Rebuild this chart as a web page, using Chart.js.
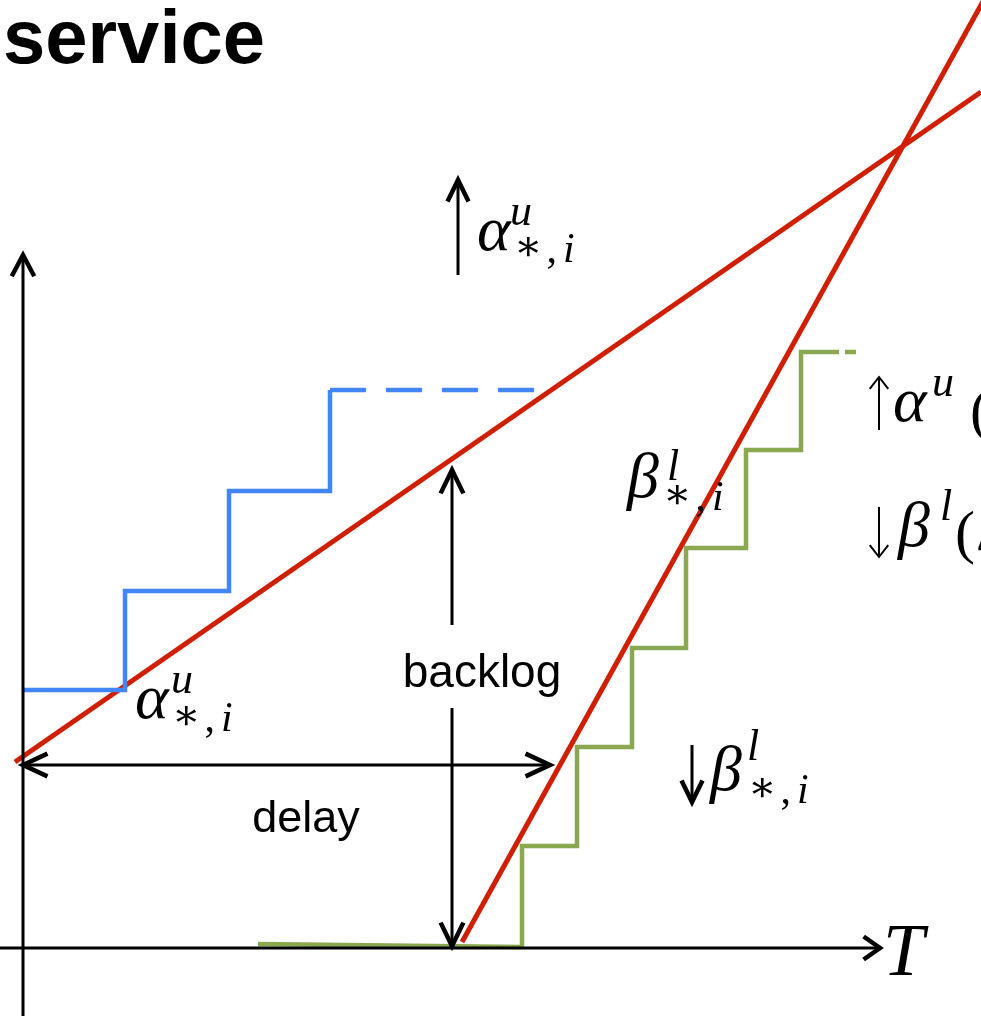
<!DOCTYPE html>
<html>
<head>
<meta charset="utf-8">
<title>service</title>
<script src="https://cdn.jsdelivr.net/npm/chart.js@4.4.1/dist/chart.umd.min.js"></script>
<style>
  html, body { margin: 0; padding: 0; background: #fff; }
  #wrap { position: relative; width: 981px; height: 1016px; }
</style>
</head>
<body>
<div id="wrap"><canvas id="curves"></canvas></div>
<script>
  // Arrival curve: upper staircase and its linear bound
  const arrivalX = [0, 10.2, 20.6, 30.7]
  const arrivalY = [25.8, 35.7, 45.7, 55.8]
  const arrivalDashX = [30.7, 51.9]
  const arrivalDashY = [55.8, 55.8]
  const alphaBoundX = [-0.8, 95.8]
  const alphaBoundY = [18.6, 85.6]

  // Service curve: lower staircase and its linear bound
  const serviceFlatX = [23.5, 49.9]
  const serviceFlatY = [0.4, 0.1]
  const serviceX = [49.9, 55.4, 60.9, 66.3, 72.3, 77.8, 81.6]
  const serviceY = [0.1, 10.2, 20.1, 30.0, 40.0, 49.8, 59.6]
  const serviceDashX = [82.2, 83.3]
  const serviceDashY = [59.6, 59.6]
  const betaBoundX = [43.9, 96.5]
  const betaBoundY = [0.6, 95.56]

  const X_MIN = -2.3, X_MAX = 95.8
  const Y_MIN = -6.8, Y_MAX = 94.8

  const RED = '#cf1f00'
  const BLUE = '#4285f4'
  const GREEN = '#8aa84f'

  const pts = (xs, ys) => xs.map((x, i) => ({ x, y: ys[i] }))

  const line = (xs, ys, color, width, extra) => Object.assign({
    data: pts(xs, ys),
    showLine: true,
    borderColor: color,
    borderWidth: width,
    pointRadius: 0,
    fill: false
  }, extra || {})

  // arrows in data units: from -> to, head at 'to' (both ends if both)
  const arrows = [
    { from: [0, Y_MIN], to: [0, 69.3], w: 3, len: 24, ang: 28 },
    { from: [X_MIN, 0], to: [85.7, 0], w: 3, len: 20, ang: 35 },
    { from: [43.5, 67.3], to: [43.5, 76.8], w: 3, len: 24, ang: 26 },
    { from: [42.9, 32.3], to: [42.9, 47.8], w: 3, len: 26, ang: 26 },
    { from: [42.9, 24.0], to: [42.9, 0.2], w: 3, len: 26, ang: 26 },
    { from: [0, 18.3], to: [52.7, 18.3], w: 3, len: 27, ang: 25, both: true },
    { from: [66.9, 20.3], to: [66.9, 14.6], w: 3, len: 24, ang: 26 },
    // thin arrows in front of the cut-off terms
    { from: [85.6, 51.8], to: [85.6, 57.1], w: 2, len: 15, ang: 38, thin: true },
    { from: [85.6, 44.1], to: [85.6, 39.1], w: 2, len: 15, ang: 38, thin: true }
  ]

  const SERIF = '"Liberation Serif", "DejaVu Serif", serif'
  const SANS = '"Liberation Sans", Arial, sans-serif'

  // math labels: base glyph at (x, y) baseline, sup/sub offsets in px
  const mathLabels = [
    { x: 45.4, y: 69.8, base: 'α', sup: 'u', supAt: [33, -25], subAt: [37, 12] },
    { x: 11.2, y: 23.0, base: 'α', sup: 'u', supAt: [36, -25], subAt: [37, 13] },
    { x: 60.4, y: 45.1, base: 'β', sup: 'l', supAt: [40, -17], subAt: [36, 13] },
    { x: 68.7, y: 15.8, base: 'β', sup: 'l', supAt: [37, -30], subAt: [38, 13] }
  ]

  function drawArrow(ctx, sx, sy, a) {
    const x1 = sx(a.from[0]), y1 = sy(a.from[1])
    const x2 = sx(a.to[0]), y2 = sy(a.to[1])
    ctx.save()
    ctx.strokeStyle = '#000'
    ctx.lineWidth = a.w
    ctx.beginPath()
    ctx.moveTo(x1, y1)
    ctx.lineTo(x2, y2)
    ctx.stroke()
    const head = (tx, ty, ox, oy) => {
      const t = Math.atan2(ty - oy, tx - ox)
      const d = a.ang * Math.PI / 180
      ctx.lineWidth = a.thin ? a.w : a.w + 1.5
      ctx.lineJoin = 'miter'
      ctx.beginPath()
      ctx.moveTo(tx - a.len * Math.cos(t - d), ty - a.len * Math.sin(t - d))
      ctx.lineTo(tx, ty)
      ctx.lineTo(tx - a.len * Math.cos(t + d), ty - a.len * Math.sin(t + d))
      ctx.stroke()
    }
    head(x2, y2, x1, y1)
    if (a.both) head(x1, y1, x2, y2)
    ctx.restore()
  }

  function drawSub(ctx, x, y) {
    ctx.font = '42px ' + SERIF
    ctx.fillText('∗', x, y - 2)
    let w = ctx.measureText('∗').width + 4
    ctx.fillText(',', x + w, y)
    w += ctx.measureText(',').width + 6
    ctx.font = 'italic 42px ' + SERIF
    ctx.fillText('i', x + w, y)
  }

  const annotations = {
    id: 'annotations',
    afterDatasetsDraw(chart) {
      const ctx = chart.ctx
      const sx = v => chart.scales.x.getPixelForValue(v)
      const sy = v => chart.scales.y.getPixelForValue(v)
      arrows.forEach(a => drawArrow(ctx, sx, sy, a))

      ctx.save()
      ctx.fillStyle = '#000'
      ctx.textBaseline = 'alphabetic'

      // heading
      ctx.textAlign = 'left'
      ctx.font = 'bold 76px ' + SANS
      ctx.fillText('service', sx(-2.0), sy(88.5))

      ctx.textAlign = 'center'
      ctx.font = '46px ' + SANS
      ctx.fillText('backlog', sx(45.9), sy(26.1))
      ctx.font = '45px ' + SANS
      ctx.fillText('delay', sx(28.3), sy(11.6))

      ctx.textAlign = 'left'
      ctx.font = 'italic 74px ' + SERIF
      ctx.fillText('T', sx(86.0), sy(-2.7))

      mathLabels.forEach(m => {
        const x = sx(m.x), y = sy(m.y)
        ctx.font = 'italic 64px ' + SERIF
        ctx.fillText(m.base, x, y)
        ctx.font = 'italic 44px ' + SERIF
        ctx.fillText(m.sup, x + m.supAt[0], y + m.supAt[1])
        drawSub(ctx, x + m.subAt[0], y + m.subAt[1])
      })

      // cut-off terms at the right edge
      ctx.font = '60px ' + SERIF
      ctx.fillText('(', 970, 430)
      ctx.fillText('(', 955, 552)
      ctx.fillText('Δ', 976, 550)
      ctx.font = 'italic 64px ' + SERIF
      ctx.fillText('α', 893, 421)
      ctx.fillText('β', 898, 546)
      ctx.font = 'italic 44px ' + SERIF
      ctx.fillText('u', 932, 396)
      ctx.fillText('l', 940, 520)
      ctx.restore()
    }
  }

  new Chart(document.getElementById('curves'), {
    type: 'scatter',
    data: {
      datasets: [
        line(arrivalX, arrivalY, BLUE, 4.5, { stepped: 'before' }),
        line(arrivalDashX, arrivalDashY, BLUE, 4.5, { borderDash: [36, 20] }),
        line(serviceFlatX, serviceFlatY, GREEN, 4.5),
        line(serviceX, serviceY, GREEN, 4.5, { stepped: 'after' }),
        line(serviceDashX, serviceDashY, GREEN, 4.5),
        line(alphaBoundX, alphaBoundY, RED, 5),
        line(betaBoundX, betaBoundY, RED, 5)
      ]
    },
    options: {
      responsive: true,
      maintainAspectRatio: false,
      animation: false,
      layout: { padding: 0 },
      plugins: {
        legend: { display: false },
        tooltip: { enabled: false },
        title: { display: false }
      },
      scales: {
        x: { type: 'linear', min: X_MIN, max: X_MAX, display: false },
        y: { type: 'linear', min: Y_MIN, max: Y_MAX, display: false }
      }
    },
    plugins: [annotations]
  })
</script>
</body>
</html>
